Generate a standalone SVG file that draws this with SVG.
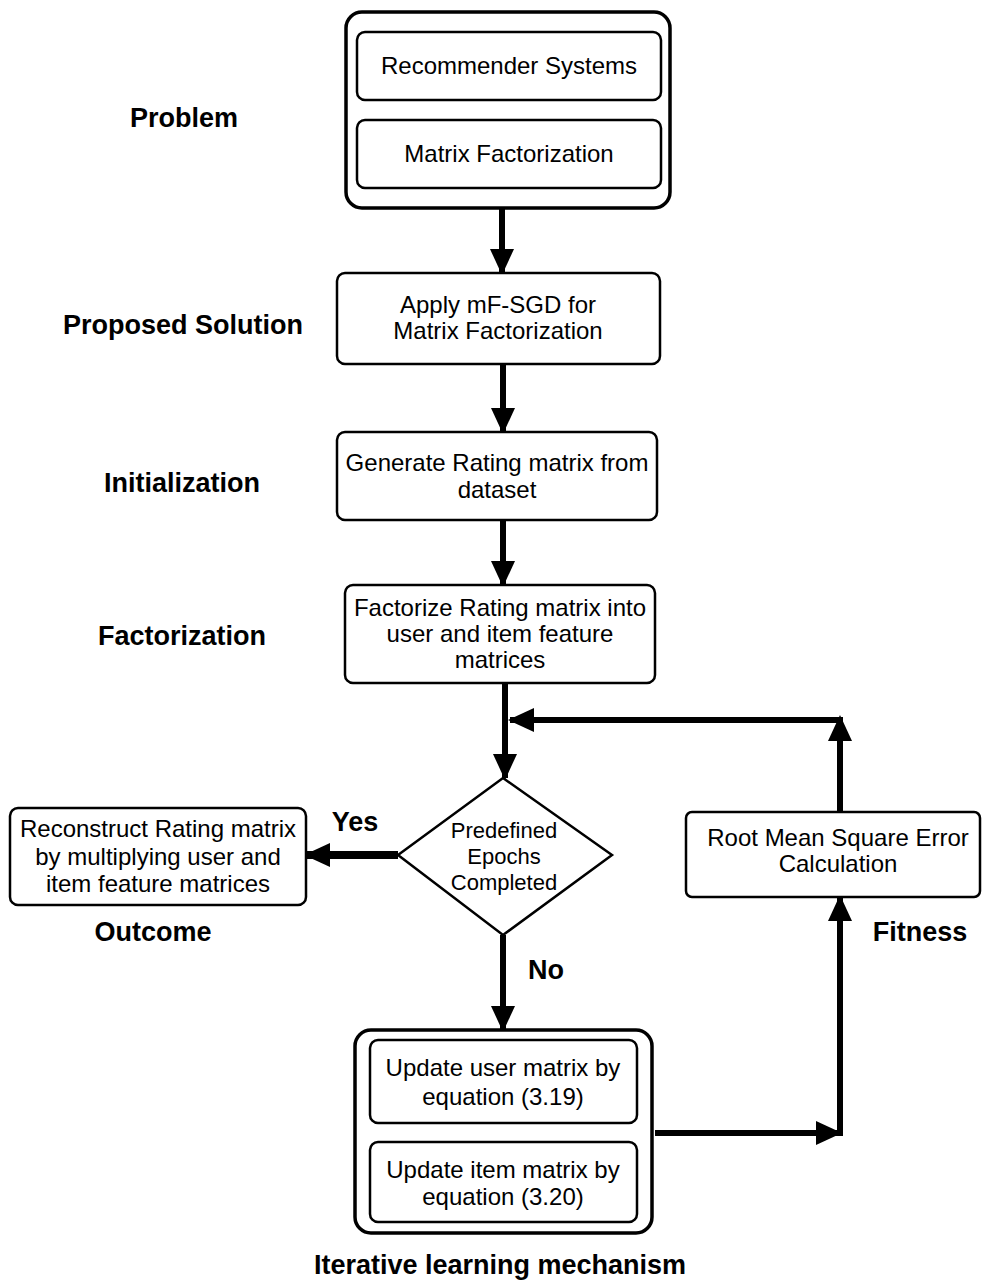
<svg xmlns="http://www.w3.org/2000/svg" width="982" height="1281" viewBox="0 0 982 1281">
<style>
.box{fill:#fff;stroke:#000;stroke-width:2.5}
.outer{fill:#fff;stroke:#000;stroke-width:3.5}
.t{font-family:"Liberation Sans",Arial,sans-serif;font-size:24px;fill:#000;text-anchor:middle}
.d{font-family:"Liberation Sans",Arial,sans-serif;font-size:22px;fill:#000;text-anchor:middle}
.lbl{font-family:"Liberation Sans",Arial,sans-serif;font-size:27px;font-weight:bold;fill:#000;text-anchor:middle}
.c{stroke:#000;stroke-width:6;fill:none}
</style>
<defs>
<marker id="ah" markerUnits="userSpaceOnUse" markerWidth="26" markerHeight="26" viewBox="0 0 26 26" refX="24" refY="13" orient="auto">
<path d="M0,1 L26,13 L0,25 Z" fill="#000"/>
</marker>
</defs>
<rect width="982" height="1281" fill="#fff"/>

<g id="labels">
<text class="lbl" x="184" y="127">Problem</text>
<text class="lbl" x="183" y="334">Proposed Solution</text>
<text class="lbl" x="182" y="492">Initialization</text>
<text class="lbl" x="182" y="645">Factorization</text>
<text class="lbl" x="153" y="941">Outcome</text>
<text class="lbl" x="920" y="941">Fitness</text>
<text class="lbl" x="500" y="1274">Iterative learning mechanism</text>
<text class="lbl" x="355" y="831">Yes</text>
<text class="lbl" x="546" y="979">No</text>
</g>

<g id="connectors">
<line class="c" x1="502" y1="208" x2="502" y2="273" marker-end="url(#ah)"/>
<line class="c" x1="503" y1="365" x2="503" y2="432" marker-end="url(#ah)"/>
<line class="c" x1="503" y1="520" x2="503" y2="585" marker-end="url(#ah)"/>
<line class="c" x1="505" y1="683" x2="505" y2="778" marker-end="url(#ah)"/>
<line class="c" x1="840" y1="812" x2="840" y2="717" marker-end="url(#ah)"/>
<line class="c" x1="843" y1="720" x2="510" y2="720" marker-end="url(#ah)"/>
<line class="c" style="stroke-width:8" x1="398" y1="855" x2="306" y2="855" marker-end="url(#ah)"/>
<line class="c" x1="503" y1="935" x2="503" y2="1030" marker-end="url(#ah)"/>
<line class="c" x1="655" y1="1133" x2="840" y2="1133" marker-end="url(#ah)"/>
<line class="c" x1="840" y1="1136" x2="840" y2="897" marker-end="url(#ah)"/>
</g>

<g id="problem">
<rect class="outer" x="346" y="12" width="324" height="196" rx="16"/>
<rect class="box" x="357" y="32" width="304" height="68" rx="8"/>
<text class="t" x="509" y="74">Recommender Systems</text>
<rect class="box" x="357" y="120" width="304" height="68" rx="8"/>
<text class="t" x="509" y="162">Matrix Factorization</text>
</g>

<g id="apply">
<rect class="box" x="337" y="273" width="323" height="91" rx="8"/>
<text class="t" x="498" y="313">Apply mF-SGD for</text>
<text class="t" x="498" y="339">Matrix Factorization</text>
</g>

<g id="generate">
<rect class="box" x="337" y="432" width="320" height="88" rx="8"/>
<text class="t" x="497" y="471">Generate Rating matrix from</text>
<text class="t" x="497" y="498">dataset</text>
</g>

<g id="factorize">
<rect class="box" x="345" y="585" width="310" height="98" rx="8"/>
<text class="t" x="500" y="616">Factorize Rating matrix into</text>
<text class="t" x="500" y="642">user and item feature</text>
<text class="t" x="500" y="668">matrices</text>
</g>

<g id="decision">
<polygon points="503,778 612,855 503,935 398,855" fill="#fff" stroke="#000" stroke-width="2.5"/>
<text class="d" x="504" y="838">Predefined</text>
<text class="d" x="504" y="864">Epochs</text>
<text class="d" x="504" y="890">Completed</text>
</g>

<g id="reconstruct">
<rect class="box" x="10" y="808" width="296" height="97" rx="8"/>
<text class="t" x="158" y="837">Reconstruct Rating matrix</text>
<text class="t" x="158" y="865">by multiplying user and</text>
<text class="t" x="158" y="892">item feature matrices</text>
</g>

<g id="rmse">
<rect class="box" x="686" y="812" width="294" height="85" rx="6"/>
<text class="t" x="838" y="846">Root Mean Square Error</text>
<text class="t" x="838" y="872">Calculation</text>
</g>

<g id="iterative">
<rect class="outer" x="355" y="1030" width="297" height="203" rx="16"/>
<rect class="box" x="370" y="1040" width="267" height="83" rx="8"/>
<text class="t" x="503" y="1076">Update user matrix by</text>
<text class="t" x="503" y="1105">equation (3.19)</text>
<rect class="box" x="370" y="1142" width="267" height="80" rx="8"/>
<text class="t" x="503" y="1178">Update item matrix by</text>
<text class="t" x="503" y="1205">equation (3.20)</text>
</g>
</svg>
